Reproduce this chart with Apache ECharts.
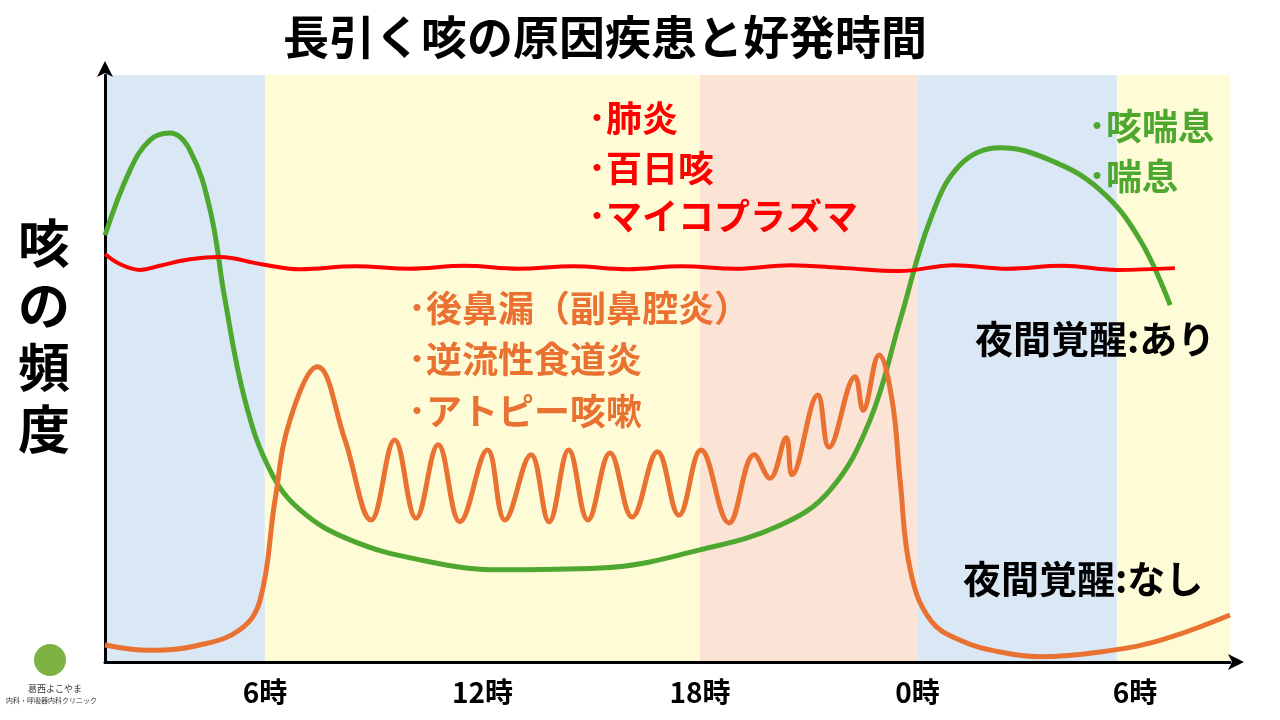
<!DOCTYPE html>
<html>
<head>
<meta charset="utf-8">
<script src="https://cdn.jsdelivr.net/npm/echarts@6/dist/echarts.min.js"></script>
<style>html,body{margin:0;padding:0;background:#fff}#container{width:1280px;height:720px}</style>
</head>
<body>
<div id="container"></div>
<script>
var dom = document.getElementById('container');
var myChart = echarts.init(dom, null, { renderer: 'canvas' });

// x = 経過時間(時), y = 咳の頻度 (0-100)
var tickHours = [6, 12, 18, 24, 30];
var tickLabels = ['6時', '12時', '18時', '0時', '6時'];
var bands = [
  [1.59, 6, '#DAE8F5'],
  [6, 18, '#FEFCD7'],
  [18, 24, '#FBE3D6'],
  [24, 29.5, '#DAE8F5'],
  [29.5, 32.62, '#FEFCD7']
];
// 咳喘息・喘息 (夜間覚醒あり)
var greenData = [[1.59,72.7],[2.28,83.8],[2.83,88.9],[3.38,90.1],[3.93,87.2],[4.49,77],[4.9,61.7],[5.45,44.6],[6.14,32.7],[6.97,25.9],[8.35,20.8],[10.28,17.4],[12.49,15.7],[15.25,16],[18.0,19.1],[20.21,23.3],[21.59,29.3],[22.69,41.2],[23.52,58.2],[24.35,75.3],[25.18,84.7],[26.28,87.6],[27.66,85.5],[29.04,80.4],[30.14,71.9],[30.97,60.8]];
// 肺炎・百日咳・マイコプラズマ
var redData = [[1.59,69.5],[2.0,67.8],[2.56,66.8],[3.1,67.5],[3.93,68.6],[4.76,69.0],[5.87,67.8],[6.97,66.9],[8.5,67.4],[10,67.0],[11.5,67.5],[13,67.0],[14.5,67.4],[16,66.9],[17.5,67.4],[19,67.0],[20.5,67.6],[22,67.1],[23.5,66.6],[25,67.6],[26.5,67.0],[28,67.5],[29.5,66.8],[31.1,67.1]];
// 後鼻漏・逆流性食道炎・アトピー咳嗽 (夜間覚醒なし)
var orangeData = [[1.59,2.9],[2.83,2.0],[4.2,2.9],[5.31,5.5],[5.87,10.6],[6.28,27.6],[6.69,41.2],[7.45,50.3],[8.2,38],[8.93,24.2],[9.58,37.8],[10.17,24.5],[10.78,37.0],[11.38,23.9],[12.14,36.1],[12.62,24.2],[13.34,35.3],[13.84,23.9],[14.38,36.1],[14.91,24.2],[15.52,35.6],[16.13,24.7],[16.83,35.8],[17.42,25.0],[18.03,36.1],[18.8,23.7],[19.5,35.3],[19.93,31.3],[20.38,38.2],[20.54,31.9],[21.25,45.5],[21.56,36.6],[22.28,48.6],[22.5,42.9],[22.94,52.3],[23.3,44.6],[23.52,31.0],[23.8,15.7],[24.35,7.2],[25.18,3.7],[26.28,1.7],[27.38,0.9],[29.04,1.7],[30.69,3.7],[32.62,8.0]];

var ff = '"Noto Sans CJK JP", sans-serif';
function txt(x, y, s, color, size) {
  return { type: 'text', left: x, top: y, z: 100, style: {
    text: s, fill: color, font: 'bold ' + size + 'px ' + ff,
    shadowBlur: 3, shadowColor: 'rgba(0,0,0,0.35)', shadowOffsetX: 2, shadowOffsetY: 2
  } };
}

var option = {
  backgroundColor: '#fff',
  animation: false,
  grid: { left: 105, right: 50, top: 75, bottom: 58 },
  xAxis: {
    type: 'value', min: 1.59, max: 32.62,
    splitLine: { show: false },
    axisLine: { lineStyle: { color: '#000', width: 3 }, symbol: ['none', 'arrow'], symbolSize: [12, 16], symbolOffset: [0, 14] },
    axisTick: { show: false },
    axisLabel: {
      customValues: tickHours,
      formatter: function (v) { return tickLabels[tickHours.indexOf(Math.round(v * 100) / 100)] || ''; },
      color: '#000', fontSize: 28, fontWeight: 'bold', fontFamily: ff, margin: 16
    }
  },
  yAxis: {
    type: 'value', min: 0, max: 100,
    splitLine: { show: false },
    axisLine: { show: true, lineStyle: { color: '#000', width: 3 }, symbol: ['none', 'arrow'], symbolSize: [12, 16], symbolOffset: [0, 14] },
    axisTick: { show: false },
    axisLabel: { show: false }
  },
  graphic: [
    txt(283, 14, '長引く咳の原因疾患と好発時間', '#000', 46),
    { type: 'text', left: 18, top: 212, z: 100, style: { text: '咳\nの\n頻\n度', fill: '#000', font: 'bold 52px ' + ff, lineHeight: 62 } },
    txt(588, 100, '･肺炎', '#FF0000', 36),
    txt(588, 150, '･百日咳', '#FF0000', 36),
    txt(588, 198, '･マイコプラズマ', '#FF0000', 36),
    txt(408, 290, '･後鼻漏（副鼻腔炎）', '#E97132', 36),
    txt(408, 341, '･逆流性食道炎', '#E97132', 36),
    txt(408, 393, '･アトピー咳嗽', '#E97132', 36),
    txt(1088, 108, '･咳喘息', '#4EA72E', 36),
    txt(1088, 158, '･喘息', '#4EA72E', 36),
    txt(975, 320, '夜間覚醒:あり', '#000', 38),
    txt(963, 560, '夜間覚醒:なし', '#000', 38),
    { type: 'circle', shape: { cx: 50, cy: 660, r: 16 }, style: { fill: '#7CB342' }, z: 100 },
    { type: 'text', left: 28, top: 684, z: 100, style: { text: '葛西よこやま', fill: '#333', font: '9px ' + ff } },
    { type: 'text', left: 6, top: 697, z: 100, style: { text: '内科・呼吸器内科クリニック', fill: '#333', font: '7px ' + ff } }
  ],
  series: [
    {
      type: 'line', data: greenData, smooth: 0.4, symbol: 'none', z: 3,
      lineStyle: { color: '#4EA72E', width: 5 },
      markArea: {
        silent: true, z: 0,
        data: bands.map(function (b) { return [{ xAxis: b[0], yAxis: 0, itemStyle: { color: b[2] } }, { xAxis: b[1], yAxis: 100 }]; })
      }
    },
    { type: 'line', data: redData, smooth: 0.4, symbol: 'none', z: 4, lineStyle: { color: '#FF0000', width: 4 } },
    { type: 'line', data: orangeData, smooth: 0.4, symbol: 'none', z: 5, lineStyle: { color: '#E97132', width: 5 } }
  ]
};

myChart.setOption(option);
window.addEventListener('resize', myChart.resize);
</script>
</body>
</html>
